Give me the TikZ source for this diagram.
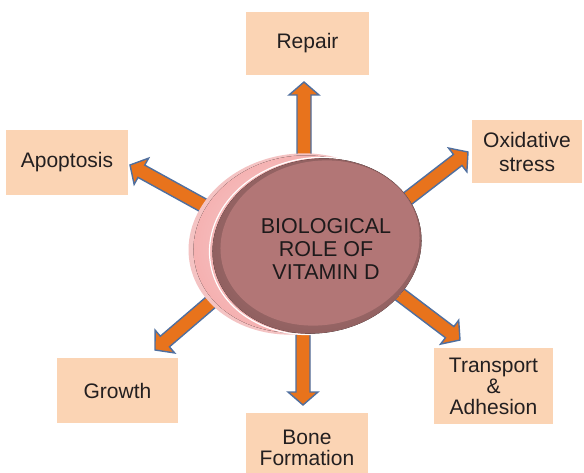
\documentclass[tikz,border=0pt]{standalone}
\usepackage{fontspec}
\setmainfont{Liberation Sans}
\usetikzlibrary{calc}
\definecolor{boxfill}{HTML}{FBD4B4}
\definecolor{arrfill}{HTML}{E8731C}
\definecolor{arrline}{HTML}{4F6F9F}
\definecolor{txt}{HTML}{231F20}
\definecolor{frontc}{HTML}{B27676}
\definecolor{backc}{HTML}{F2B8B8}
\tikzset{
  rolebox/.style={fill=boxfill, draw=none, inner sep=0pt, align=center,
    text=txt, font=\fontsize{21}{24}\selectfont},
  blockarr/.style={fill=arrfill, draw=arrline, line width=1.4pt, line join=miter},
}
\newcommand\blockarrow[2]{%
  \coordinate (hb#1#2) at ($(#2)!13pt!(#1)$);
  \draw[blockarr] ($(#1)!7pt!90:(#2)$) -- ($(hb#1#2)!7pt!-90:(#1)$)
    -- ($(hb#1#2)!15pt!-90:(#1)$) -- (#2) -- ($(hb#1#2)!15pt!90:(#1)$)
    -- ($(hb#1#2)!7pt!90:(#1)$) -- ($(#1)!7pt!-90:(#2)$) -- cycle;}
\begin{document}
\begin{tikzpicture}[x=1pt,y=-1pt]
\useasboundingbox[fill=white] (0,0) rectangle (584,473);
% boxes
\node[rolebox, minimum width=123pt, minimum height=63pt] (repair) at (307.5,43.5) {Repair};
\node[rolebox, minimum width=110pt, minimum height=63pt] (oxid) at (527,152) {Oxidative\\stress};
\node[rolebox, minimum width=122pt, minimum height=65pt] (apop) at (67,162.5) {Apoptosis};
\node[rolebox, minimum width=121pt, minimum height=65pt] (growth) at (117.5,390.5) {Growth};
\node[rolebox, minimum width=122pt, minimum height=69pt, font=\fontsize{21}{21}\selectfont] (bone) at (307,447.5) {Bone\\Formation};
\node[rolebox, minimum width=119pt, minimum height=76pt, font=\fontsize{21}{21}\selectfont] (trans) at (493.5,386) {Transport\\\&\\Adhesion};
% arrow ends
\coordinate (tU) at (304,160); \coordinate (hU) at (304,82);
\coordinate (tNE) at (398,206); \coordinate (hNE) at (468,152);
\coordinate (tSE) at (390,287); \coordinate (hSE) at (460,340);
\coordinate (tD) at (303,325); \coordinate (hD) at (303,405);
\coordinate (tA) at (208,208); \coordinate (hA) at (130,165);
\coordinate (tG) at (218,296); \coordinate (hG) at (155,350);
\blockarrow{tU}{hU}
\blockarrow{tNE}{hNE}
\blockarrow{tSE}{hSE}
\blockarrow{tD}{hD}
\blockarrow{tA}{hA}
\blockarrow{tG}{hG}
% central disc
\fill[backc!85!white, rotate around={10:(297,244)}] (297,244) ellipse [x radius=109pt, y radius=90pt];
\fill[inner color=backc!55!white, outer color=backc!90!red!90!white, rotate around={10:(299,244)}] (299,244) ellipse [x radius=106pt, y radius=88pt];
\draw[white, line width=1.2pt, rotate around={10:(315,246)}] (315,246) ellipse [x radius=106pt, y radius=88pt];
\fill[inner color=frontc!95!white, outer color=frontc!80!black, rotate around={10:(317,246)}] (317,246) ellipse [x radius=105pt, y radius=87pt];
\fill[frontc, rotate around={10:(320,243)}] (320,243) ellipse [x radius=100pt, y radius=82pt];
\node[align=center, text=txt!85!black, font=\fontsize{21.5}{23}\selectfont, inner sep=0pt] (center) at (326,249) {BIOLOGICAL\\ROLE OF\\VITAMIN D};
\end{tikzpicture}
\end{document}
